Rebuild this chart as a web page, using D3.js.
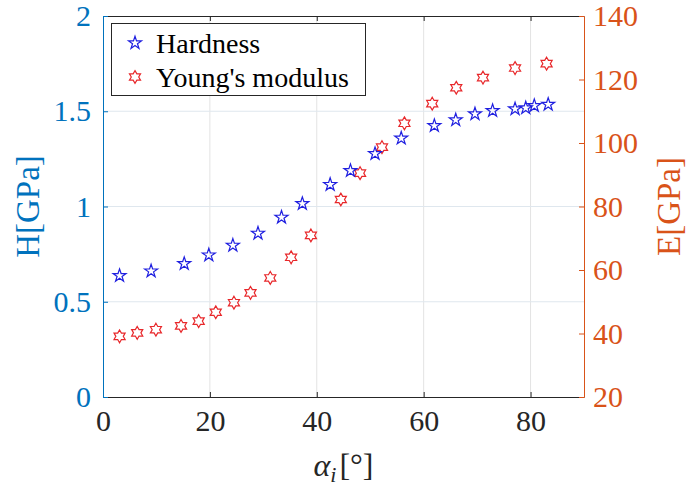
<!DOCTYPE html>
<html><head><meta charset="utf-8">
<script src="https://cdn.jsdelivr.net/npm/d3@7"></script>
<style>
body{margin:0;background:#fff;}
svg{display:block;}
</style>
</head><body>
<svg id="c" width="699" height="491"></svg>
<script>
// ---- data ----
const hardAngle = [3.1, 9.0, 15.2, 19.8, 24.3, 29.0, 33.4, 37.3, 42.5, 46.3, 50.9, 55.8, 62.0, 66.0, 69.6, 72.9, 77.1, 79.1, 80.7, 83.3];
const hardness  = [0.637, 0.661, 0.700, 0.745, 0.796, 0.859, 0.943, 1.015, 1.115, 1.188, 1.277, 1.358, 1.424, 1.454, 1.486, 1.503, 1.512, 1.517, 1.529, 1.536];
const modAngle  = [3.1, 6.4, 9.9, 14.6, 17.9, 21.1, 24.5, 27.6, 31.3, 35.2, 38.9, 44.5, 48.1, 52.2, 56.4, 61.6, 66.1, 71.1, 77.1, 83.0];
const modulus   = [39.1, 40.2, 41.2, 42.4, 43.9, 46.7, 49.7, 52.8, 57.5, 64.0, 70.9, 82.2, 90.5, 98.7, 106.2, 112.4, 117.4, 120.6, 123.6, 125.0];
const xTicks = [0, 20, 40, 60, 80];
const hTicks = [0, 0.5, 1, 1.5, 2];
const eTicks = [20, 40, 60, 80, 100, 120, 140];
const seriesNames = ["Hardness", "Young's modulus"];

// ---- layout ----
const FONT = "Liberation Serif, Times New Roman, Times, Tinos, Noto Serif, DejaVu Serif, FreeSerif, Nimbus Roman, serif";
const L = 103, R = 584, T = 16, B = 397;
const svg = d3.select("#c");
const x = d3.scaleLinear().domain([0, 90]).range([L, R]);
const yH = d3.scaleLinear().domain([0, 2]).range([B, T]);
const yE = d3.scaleLinear().domain([20, 140]).range([B, T]);

const cBlue = "#0072BD", cOrange = "#D95319", cDark = "#262626";
const tickFont = 30;

// grid
svg.append("g").selectAll("line").data(xTicks.filter(d => d > 0)).join("line")
  .attr("x1", d => x(d)).attr("x2", d => x(d)).attr("y1", T).attr("y2", B)
  .attr("stroke", "#e3e3e3").attr("stroke-width", 1);
svg.append("g").selectAll("line").data(hTicks.filter(d => d > 0 && d < 2)).join("line")
  .attr("y1", d => yH(d)).attr("y2", d => yH(d)).attr("x1", L).attr("x2", R)
  .attr("stroke", "#dfe7ee").attr("stroke-width", 1);

// markers
function starPath(n, Ro, Ri) {
  const pts = [];
  for (let k = 0; k < 2 * n; k++) {
    const a = -Math.PI / 2 + k * Math.PI / n;
    const r = k % 2 === 0 ? Ro : Ri;
    pts.push([r * Math.cos(a), r * Math.sin(a)]);
  }
  return "M" + pts.map(p => p[0].toFixed(2) + "," + p[1].toFixed(2)).join("L") + "Z";
}
const penta = starPath(5, 6.8, 6.8 * 0.382);
const hexa = starPath(6, 6.4, 6.4 / Math.sqrt(3));

const cH = "#1f1fe0", cE = "#e8272a";
svg.append("g").selectAll("path").data(modAngle.map((a, i) => [a, modulus[i]])).join("path")
  .attr("d", hexa).attr("transform", d => `translate(${x(d[0])},${yE(d[1])})`)
  .attr("fill", "none").attr("stroke", cE).attr("stroke-width", 1.2);
svg.append("g").selectAll("path").data(hardAngle.map((a, i) => [a, hardness[i]])).join("path")
  .attr("d", penta).attr("transform", d => `translate(${x(d[0])},${yH(d[1])})`)
  .attr("fill", "none").attr("stroke", cH).attr("stroke-width", 1.2);

// axes
function styleAxis(g, color) {
  g.attr("font-family", FONT);
  g.select(".domain").attr("stroke", color).attr("stroke-width", 1);
  g.selectAll(".tick line").attr("stroke", color);
  g.selectAll(".tick text").attr("fill", color).attr("font-size", tickFont).style("font-family", FONT);
}
const xAxis = svg.append("g").attr("transform", `translate(0,${B})`)
  .call(d3.axisBottom(x).tickValues(xTicks).tickSizeInner(-5).tickSizeOuter(0).tickPadding(13).tickFormat(d3.format("d")));
styleAxis(xAxis, cDark);
const xTop = svg.append("g").attr("transform", `translate(0,${T})`)
  .call(d3.axisTop(x).tickValues(xTicks).tickSizeInner(-5).tickSizeOuter(0).tickFormat(""));
styleAxis(xTop, cDark);

const yAxisL = svg.append("g").attr("transform", `translate(${L},0)`)
  .call(d3.axisLeft(yH).tickValues(hTicks).tickSizeInner(-5).tickSizeOuter(0).tickPadding(12).tickFormat(d => String(d)));
styleAxis(yAxisL, cBlue);
const yAxisR = svg.append("g").attr("transform", `translate(${R},0)`)
  .call(d3.axisRight(yE).tickValues(eTicks).tickSizeInner(-5).tickSizeOuter(0).tickPadding(9).tickFormat(d3.format("d")));
styleAxis(yAxisR, cOrange);

// axis labels
svg.append("text").attr("transform", `translate(39,${(T + B) / 2}) rotate(-90)`)
  .style("font-family", FONT).attr("text-anchor", "middle").attr("font-size", 33).attr("fill", cBlue).text("H[GPa]");
svg.append("text").attr("transform", `translate(680,${(T + B) / 2}) rotate(-90)`)
  .style("font-family", FONT).attr("text-anchor", "middle").attr("font-size", 33).attr("fill", cOrange).text("E[GPa]");
const xl = svg.append("text").attr("x", (L + R) / 2).attr("y", 476).attr("text-anchor", "middle")
  .style("font-family", FONT).attr("font-size", 32).attr("fill", cDark);
xl.append("tspan").attr("font-style", "italic").text("α");
xl.append("tspan").attr("font-style", "italic").attr("font-size", 22).attr("dy", 6).text("i");
xl.append("tspan").attr("dy", -6).attr("dx", 3).text("[°]");

// legend
const lg = svg.append("g");
lg.append("rect").attr("x", 111.5).attr("y", 23.5).attr("width", 254).attr("height", 72)
  .attr("fill", "#fff").attr("stroke", cDark).attr("stroke-width", 1);
const rows = [{name: seriesNames[0], d: penta, c: cH, y: 43}, {name: seriesNames[1], d: hexa, c: cE, y: 77}];
rows.forEach(r => {
  lg.append("path").attr("d", r.d).attr("transform", `translate(135,${r.y})`)
    .attr("fill", "none").attr("stroke", r.c).attr("stroke-width", 1.2);
  lg.append("text").attr("x", 156).attr("y", r.y + 9.5).style("font-family", FONT)
    .attr("font-size", 28).attr("fill", "#000").text(r.name);
});
</script>
</body></html>
